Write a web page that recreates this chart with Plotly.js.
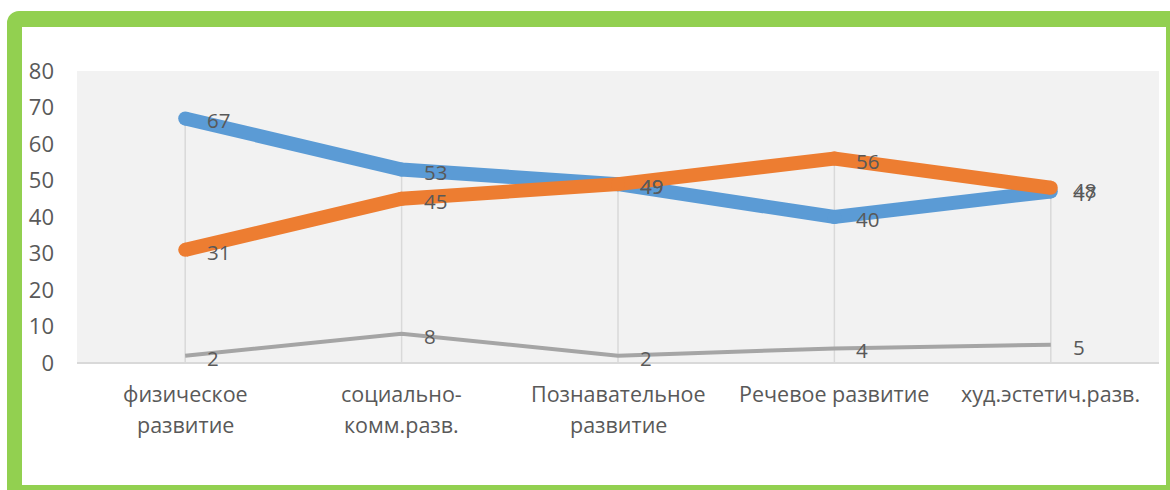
<!DOCTYPE html>
<html>
<head>
<meta charset="utf-8">
<script src="https://cdn.plot.ly/plotly-3.0.1.min.js"></script>
<style>
  html, body { margin: 0; padding: 0; background: #ffffff; width: 1170px; height: 490px; overflow: hidden; }
  #frame { position: absolute; left: 7px; top: 11px; width: 1163px; height: 479px; box-sizing: border-box;
           border-left: 15px solid #92d050; border-top: 16px solid #92d050; border-right: 4px solid #92d050;
           border-bottom: 5px solid #92d050; border-top-left-radius: 12px; background: #ffffff; }
  #chart { position: absolute; left: 0; top: 0; width: 1170px; height: 490px; }
</style>
</head>
<body>
<div id="frame"></div>
<div id="chart"></div>
<script>
const categories = ["физическое\nразвитие", "социально-\nкомм.разв.", "Познавательное\nразвитие", "Речевое развитие", "худ.эстетич.разв."];
const seriesBlue = [67, 53, 49, 40, 47];
const seriesOrange = [31, 45, 49, 56, 48];
const seriesGray = [2, 8, 2, 4, 5];
const yTicks = [0, 10, 20, 30, 40, 50, 60, 70, 80];

const catKeys = categories.map((c, i) => "c" + i);
const textColor = "#595959";
const fontFamily = "'Open Sans', 'Noto Sans', sans-serif";

// drop lines from highest value to the axis
const dropX = [], dropY = [];
catKeys.forEach((k, i) => {
  const m = Math.max(seriesBlue[i], seriesOrange[i], seriesGray[i]);
  dropX.push(k, k, null);
  dropY.push(0, m, null);
});

const traces = [
  { x: dropX, y: dropY, mode: "lines", line: { color: "#d9d9d9", width: 1.5 }, hoverinfo: "skip", showlegend: false },
  { x: catKeys, y: seriesBlue, mode: "lines+markers", line: { color: "#5b9bd5", width: 14 },
    marker: { color: "#5b9bd5", size: 14, line: { width: 0 } }, showlegend: false },
  { x: catKeys, y: seriesOrange, mode: "lines+markers", line: { color: "#ed7d31", width: 14 },
    marker: { color: "#ed7d31", size: 14, line: { width: 0 } }, showlegend: false },
  { x: catKeys, y: seriesGray, mode: "lines", line: { color: "#a5a5a5", width: 4 }, showlegend: false }
];

const annotations = [];
[seriesBlue, seriesOrange, seriesGray].forEach(s => {
  s.forEach((v, i) => {
    annotations.push({ x: catKeys[i], y: v, xref: "x", yref: "y", text: String(v), showarrow: false,
      xanchor: "left", yanchor: "middle", xshift: 20, yshift: -2,
      font: { family: fontFamily, size: 20.5, color: textColor } });
  });
});
categories.forEach((c, i) => {
  c.split("\n").forEach((line, j) => {
    annotations.push({ x: catKeys[i], y: 0, xref: "x", yref: "paper", text: line, showarrow: false,
      xanchor: "center", yanchor: "middle", yshift: -30 - 31 * j,
      font: { family: fontFamily, size: 21.5, color: textColor } });
  });
});

const layout = {
  width: 1170, height: 490,
  margin: { l: 77, r: 11, t: 71, b: 127, pad: 0 },
  paper_bgcolor: "rgba(0,0,0,0)",
  plot_bgcolor: "#f2f2f2",
  xaxis: { type: "category", range: [-0.5, 4.5], showticklabels: false, showgrid: false, zeroline: false,
           showline: false, fixedrange: true },
  yaxis: { range: [0, 80], tickvals: yTicks, showgrid: false, zeroline: true, zerolinecolor: "#d9d9d9", zerolinewidth: 1.5,
           showline: false, ticks: "", ticklabelstandoff: 22,
           tickfont: { family: fontFamily, size: 22, color: textColor } },
  annotations: annotations,
  showlegend: false
};

Plotly.newPlot("chart", traces, layout, { staticPlot: true, displayModeBar: false });
</script>
</body>
</html>
